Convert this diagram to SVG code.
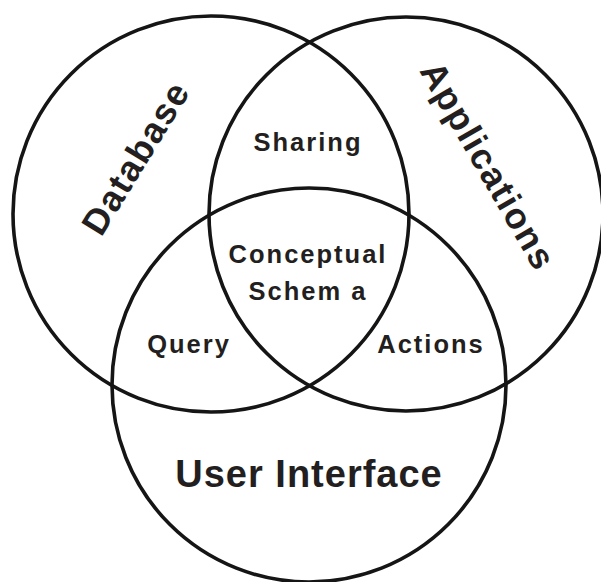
<svg xmlns="http://www.w3.org/2000/svg" width="601" height="582" viewBox="0 0 601 582">
  <style>
    .ring { fill: none; stroke: #151515; stroke-width: 3.6; }
    text { font-family: "Liberation Sans", Arial, sans-serif; font-weight: bold; fill: #231f20; text-anchor: middle; }
    .big { font-size: 36px; letter-spacing: 1.5px; }
    .mid { font-size: 25.5px; letter-spacing: 2px; }
    .ui { font-size: 38px; letter-spacing: 1px; }
  </style>
  <rect width="601" height="582" fill="#ffffff"/>

  <!-- three overlapping sets -->
  <g id="database">
    <circle class="ring" cx="211" cy="214" r="198"/>
    <text class="big" transform="translate(136,158) rotate(-58.5)" x="0" y="12">Database</text>
  </g>
  <g id="applications">
    <circle class="ring" cx="406" cy="214" r="197"/>
    <text class="big" transform="translate(488,166) rotate(60)" x="0" y="12">Applications</text>
  </g>
  <g id="user-interface">
    <circle class="ring" cx="309" cy="385" r="197"/>
    <text class="ui" x="309" y="487">User Interface</text>
  </g>

  <!-- intersection labels -->
  <g id="sharing">
    <text class="mid" x="308" y="151">Sharing</text>
  </g>
  <g id="conceptual-schema">
    <text class="mid" x="308" y="263">Conceptual</text>
    <text class="mid" x="308" y="300">Schem a</text>
  </g>
  <g id="query">
    <text class="mid" x="189" y="353">Query</text>
  </g>
  <g id="actions">
    <text class="mid" x="431" y="353">Actions</text>
  </g>

  <g id="connectors"/>
</svg>
